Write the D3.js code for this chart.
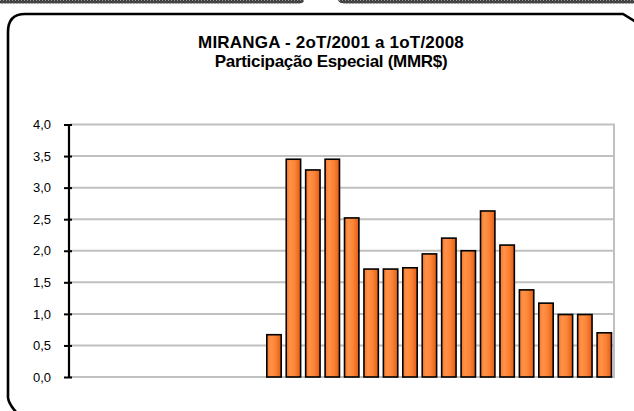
<!DOCTYPE html>
<html>
<head>
<meta charset="utf-8">
<script src="https://cdn.jsdelivr.net/npm/d3@7"></script>
<style>
  html, body { margin: 0; padding: 0; background: #ffffff; }
  svg { display: block; }
</style>
</head>
<body>
<svg id="chart" width="634" height="411"></svg>
<script>
// Quarters from 2oT/2001 to 1oT/2008
const quarters = [
  "2T/2001", "3T/2001", "4T/2001",
  "1T/2002", "2T/2002", "3T/2002", "4T/2002",
  "1T/2003", "2T/2003", "3T/2003", "4T/2003",
  "1T/2004", "2T/2004", "3T/2004", "4T/2004",
  "1T/2005", "2T/2005", "3T/2005", "4T/2005",
  "1T/2006", "2T/2006", "3T/2006", "4T/2006",
  "1T/2007", "2T/2007", "3T/2007", "4T/2007",
  "1T/2008"
];

// Participação Especial, millions of R$ (no payment before 4T/2003)
const values = [
  null, null, null,
  null, null, null, null,
  null, null, null, 0.67,
  3.45, 3.28, 3.45, 2.52,
  1.71, 1.71, 1.73, 1.95,
  2.20, 2.00, 2.63, 2.09,
  1.38, 1.17, 0.99, 0.99,
  0.70
];

const yTicks = [0, 0.5, 1, 1.5, 2, 2.5, 3, 3.5, 4];
const titleLines = ["MIRANGA - 2oT/2001 a 1oT/2008", "Participação Especial (MMR$)"];
const titleSpacing = [0.2, -0.3];

const svg = d3.select("#chart");
const fmt = v => d3.format(".1f")(v).replace(".", ",");

const plot = { left: 70, right: 614, top: 124.5, bottom: 377 };

const x = d3.scaleBand()
  .domain(quarters)
  .range([plot.left, plot.right])
  .paddingInner(0.26)
  .paddingOuter(0.13);

const y = d3.scaleLinear()
  .domain([0, 4])
  .range([plot.bottom, plot.top]);

// Bar shading
const defs = svg.append("defs");
const grad = defs.append("linearGradient")
  .attr("id", "barFill")
  .attr("x1", "0%").attr("x2", "100%").attr("y1", "0%").attr("y2", "0%");
[["0%", "#f57a2c"], ["28%", "#ff9148"], ["60%", "#fb8437"], ["100%", "#e35c12"]]
  .forEach(([o, c]) => grad.append("stop").attr("offset", o).attr("stop-color", c));

// Hatched strips of the neighbouring frames along the top edge
const hatch = defs.append("pattern")
  .attr("id", "hatch").attr("width", 3).attr("height", 3)
  .attr("patternUnits", "userSpaceOnUse");
hatch.append("rect").attr("width", 3).attr("height", 3).attr("fill", "#3a3a3a");
hatch.append("rect").attr("width", 1).attr("height", 1).attr("fill", "#9a9a9a");
hatch.append("rect").attr("x", 1.5).attr("y", 1.5).attr("width", 1).attr("height", 1).attr("fill", "#7a7a7a");

svg.append("path")
  .attr("d", "M0,-2 L304,-2 L304,0 Q304,3 300,3.5 L0,3.5 Z")
  .attr("fill", "url(#hatch)");
svg.append("path")
  .attr("d", "M338,-2 L634,-2 L634,3.5 L345,3.5 Q339,3.5 338,0 Z")
  .attr("fill", "url(#hatch)");

// Rounded chart frame
svg.append("path")
  .attr("d", "M8,398 L8,32 Q8,14 25,14 L623,14 L636,22 M8,398 Q9,404 16,412")
  .attr("fill", "none")
  .attr("stroke", "#000")
  .attr("stroke-width", 2.6);

// Title
const title = svg.append("text")
  .attr("text-anchor", "middle")
  .attr("font-family", "'Liberation Sans', Arial, sans-serif")
  .attr("font-weight", "bold")
  .attr("font-size", 17)
  .attr("fill", "#000");
titleLines.forEach((t, i) => {
  title.append("tspan")
    .attr("x", 331)
    .attr("y", 47.5 + i * 19)
    .attr("letter-spacing", titleSpacing[i])
    .text(t);
});

// Horizontal gridlines
svg.append("g")
  .selectAll("line")
  .data(yTicks)
  .join("line")
  .attr("x1", plot.left)
  .attr("x2", plot.right + 1)
  .attr("y1", d => y(d))
  .attr("y2", d => y(d))
  .attr("stroke", "#c0c0c0")
  .attr("stroke-width", 2);

// Right edge of the plot area
svg.append("line")
  .attr("x1", plot.right).attr("x2", plot.right)
  .attr("y1", plot.top).attr("y2", plot.bottom + 1)
  .attr("stroke", "#c0c0c0")
  .attr("stroke-width", 2);

// Bars
svg.append("g")
  .selectAll("rect")
  .data(quarters.map((q, i) => ({ q, v: values[i] })).filter(d => d.v != null))
  .join("rect")
  .attr("x", d => x(d.q))
  .attr("width", x.bandwidth())
  .attr("y", d => y(d.v))
  .attr("height", d => y(0) - y(d.v))
  .attr("fill", "url(#barFill)")
  .attr("stroke", "#000")
  .attr("stroke-width", 1.6);

// Value axis
const yAxis = d3.axisLeft(y)
  .tickValues(yTicks)
  .tickFormat(fmt)
  .tickSize(5)
  .tickPadding(13)
  .tickSizeOuter(0);

const gy = svg.append("g")
  .attr("transform", `translate(${plot.left - 1},0)`)
  .call(yAxis);
gy.select(".domain")
  .attr("stroke", "#000")
  .attr("stroke-width", 2.2)
  .attr("d", `M0,${plot.top - 0.5}V${plot.bottom + 0.5}`);
gy.selectAll(".tick line")
  .attr("stroke", "#000")
  .attr("stroke-width", 2)
  .attr("x1", 3)
  .attr("x2", -5);
gy.selectAll(".tick text")
  .attr("font-family", "'Liberation Sans', Arial, sans-serif")
  .attr("font-size", 13)
  .attr("fill", "#000");
</script>
</body>
</html>
